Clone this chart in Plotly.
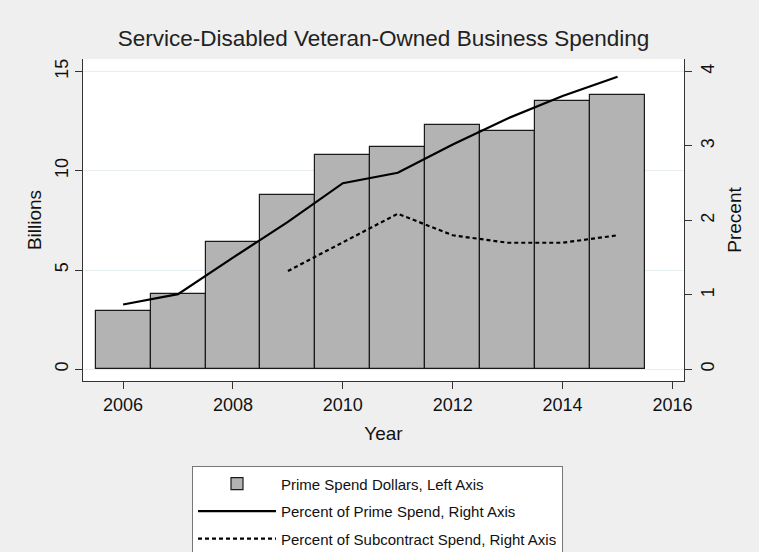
import plotly.graph_objects as go

years = [2006, 2007, 2008, 2009, 2010, 2011, 2012, 2013, 2014, 2015]
prime_dollars = [2.96, 3.80, 6.42, 8.76, 10.81, 11.22, 12.33, 12.01, 13.50, 13.81]
prime_pct = [0.87, 1.01, 1.50, 1.98, 2.50, 2.64, 3.02, 3.37, 3.67, 3.93]
sub_years = [2009, 2010, 2011, 2012, 2013, 2014, 2015]
sub_pct = [1.32, 1.70, 2.09, 1.80, 1.70, 1.70, 1.80]

x_ticks = [2006, 2008, 2010, 2012, 2014, 2016]
left_ticks = [0, 5, 10, 15]
right_ticks = [0, 1, 2, 3, 4]

FONT = "Liberation Sans, Arial, Helvetica, sans-serif"
TXT = "#111111"

fig = go.Figure()
fig.add_trace(go.Bar(
    x=years, y=prime_dollars, width=1.0,
    marker=dict(color="#b3b3b3", line=dict(color="#1a1a1a", width=1.2)),
    name="Prime Spend Dollars, Left Axis", legendgroup="a",
))
fig.add_trace(go.Scatter(
    x=years, y=prime_pct, yaxis="y2", mode="lines",
    line=dict(color="black", width=2.2),
    name="Percent of Prime Spend, Right Axis", legendgroup="b",
))
fig.add_trace(go.Scatter(
    x=sub_years, y=sub_pct, yaxis="y2", mode="lines",
    line=dict(color="black", width=2.2, dash="4px,3px"),
    name="Percent of Subcontract Spend, Right Axis", legendgroup="c",
))

left_range = [-0.59, 15.63]
right_range = [v * 4 / 15 for v in left_range]

fig.update_layout(
    width=759, height=552,
    margin=dict(l=83, r=75, t=59, b=171, pad=0, autoexpand=False),
    paper_bgcolor="#efefef", plot_bgcolor="white",
    font=dict(family=FONT, color=TXT, size=18),
    title=dict(text="Service-Disabled Veteran-Owned Business Spending",
               x=0.5, xref="paper", xanchor="center",
               y=1 - 38 / 552, yanchor="middle",
               font=dict(size=22.5, color="#222222")),
    bargap=0,
    showlegend=True,
    legend=dict(
        x=(192 - 83) / 601, xanchor="left",
        y=-(466 - 380.7) / 321.4, yanchor="top",
        bgcolor="white", bordercolor="#777777", borderwidth=1,
        font=dict(size=15, color=TXT), itemwidth=78,
        tracegroupgap=5, traceorder="grouped",
    ),
    xaxis=dict(
        range=[2005.27, 2016.21], tickvals=x_ticks, ticks="outside",
        ticklen=7, tickcolor="#333", showgrid=False, zeroline=False,
        showline=True, linecolor="#333", linewidth=1.2, automargin=False,
        title=dict(text="Year", font=dict(size=19), standoff=12),
        tickfont=dict(size=18),
    ),
    yaxis=dict(
        range=left_range, tickvals=left_ticks, ticks="outside", ticklen=7,
        tickcolor="#333", tickangle=-90, showgrid=True, gridcolor="#e8eff2",
        gridwidth=1.2, zeroline=False, showline=True, linecolor="#333",
        linewidth=1.2, automargin=False,
        title=dict(text="Billions", font=dict(size=19), standoff=5),
        tickfont=dict(size=18),
    ),
    yaxis2=dict(
        range=right_range, tickvals=right_ticks, ticks="outside", ticklen=7,
        tickcolor="#333", tickangle=-90, overlaying="y", side="right",
        showgrid=False, zeroline=False, showline=True, linecolor="#333",
        linewidth=1.2, automargin=False,
        title=dict(text="Precent", font=dict(size=19), standoff=10),
        tickfont=dict(size=18),
    ),
)

fig.write_html(
    "out.html",
    config={"displayModeBar": False},
    post_script="document.body.style.margin='0';document.body.style.padding='0';",
)
